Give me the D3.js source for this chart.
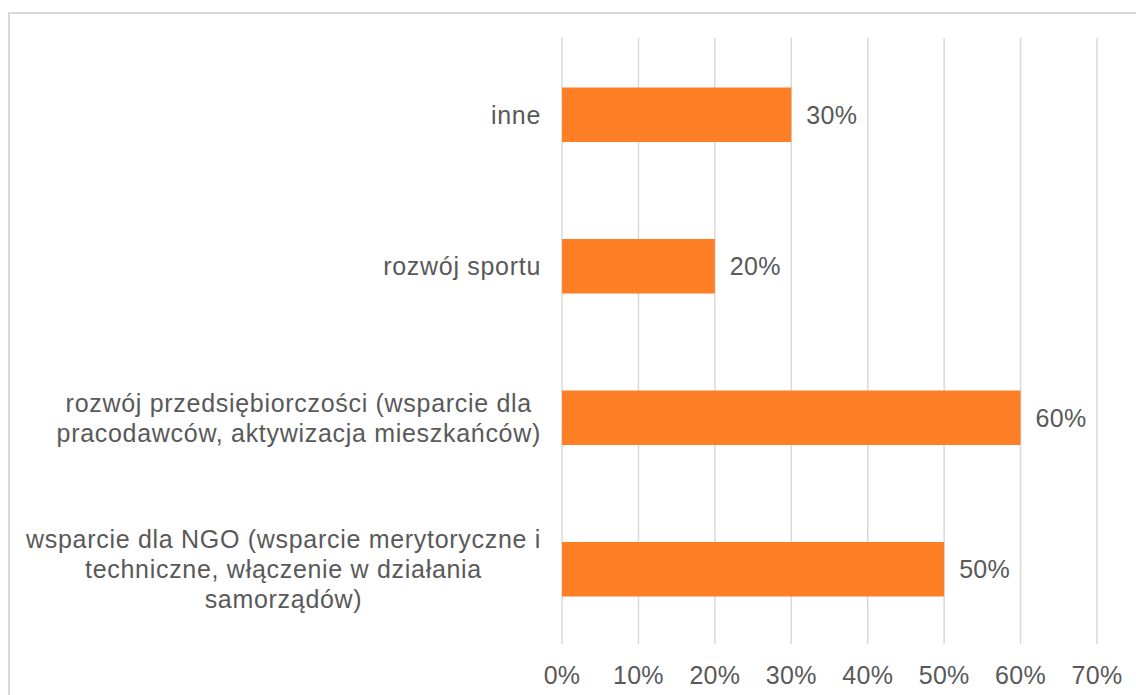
<!DOCTYPE html>
<html>
<head>
<meta charset="utf-8">
<script src="https://cdn.jsdelivr.net/npm/d3@7"></script>
<style>
  body { margin: 0; background: #fff; }
  svg text { font-family: "Liberation Sans", Arial, sans-serif; fill: #595959; }
</style>
</head>
<body>
<svg width="1136" height="695"></svg>
<script>
(() => {

    // categories, top to bottom, each split into its display lines
    const categories = [
        ['inne'],
        ['rozwój sportu'],
        ['rozwój przedsiębiorczości (wsparcie dla', 'pracodawców, aktywizacja mieszkańców)'],
        ['wsparcie dla NGO (wsparcie merytoryczne i', 'techniczne, włączenie w działania', 'samorządów)']
    ];
    const values = [0.30, 0.20, 0.60, 0.50];
    const ticks = [0, 0.1, 0.2, 0.3, 0.4, 0.5, 0.6, 0.7];

    const data = categories.map((lines, i) => ({ id: i, lines: lines, value: values[i] }));

    const svg = d3.select('svg');
    const fontSize = 25;
    const labelRight = 541;

    // outer frame
    svg.append('rect')
            .attr('x', 9)
            .attr('y', 13)
            .attr('width', 1140)
            .attr('height', 700)
            .attr('fill', 'none')
            .attr('stroke', '#d9d9d9')
            .attr('stroke-width', 2);

    const x = d3.scaleLinear()
            .domain([0, 0.7])
            .range([562, 1097]);

    const y = d3.scaleBand()
            .domain(data.map(d => d.id))
            .range([39, 645])
            .paddingInner(0.64)
            .paddingOuter(0.32);

    // gridlines
    svg.append('g')
            .selectAll('line')
            .data(ticks)
            .enter().append('line')
            .attr('x1', d => x(d))
            .attr('x2', d => x(d))
            .attr('y1', 38)
            .attr('y2', 644)
            .attr('stroke', '#d9d9d9')
            .attr('stroke-width', 1.5);

    // tick labels
    svg.append('g')
            .selectAll('text')
            .data(ticks)
            .enter().append('text')
            .attr('x', d => x(d))
            .attr('y', 684)
            .attr('text-anchor', 'middle')
            .attr('font-size', fontSize)
            .attr('letter-spacing', 0.3)
            .text(d3.format('.0%'));

    // bars
    svg.append('g')
            .selectAll('rect')
            .data(data)
            .enter().append('rect')
            .attr('x', x(0))
            .attr('y', d => y(d.id))
            .attr('width', d => x(d.value) - x(0))
            .attr('height', y.bandwidth())
            .attr('fill', '#FF7F27');

    // value labels
    svg.append('g')
            .selectAll('text')
            .data(data)
            .enter().append('text')
            .attr('x', d => x(d.value) + 15)
            .attr('y', d => y(d.id) + y.bandwidth() / 2 + 9)
            .attr('font-size', fontSize)
            .attr('letter-spacing', 0.3)
            .text(d => d3.format('.0%')(d.value));

    // category labels: block right-aligned, lines centred within the block
    const lineHeight = 30;
    const label = svg.append('g')
            .selectAll('text')
            .data(data)
            .enter().append('text')
            .attr('font-size', fontSize)
            .attr('letter-spacing', 0.7)
            .attr('text-anchor', 'middle');

    label.each(function (d) {
        const t = d3.select(this);
        const cy = y(d.id) + y.bandwidth() / 2;
        const top = cy - (d.lines.length - 1) * lineHeight / 2 + 9;
        const spans = t.selectAll('tspan')
                .data(d.lines)
                .enter().append('tspan')
                .attr('y', (l, i) => top + i * lineHeight)
                .text(l => l);
        let maxW = 0;
        spans.each(function () {
            maxW = Math.max(maxW, this.getComputedTextLength());
        });
        spans.attr('x', labelRight - maxW / 2);
    });

})();
</script>
</body>
</html>
